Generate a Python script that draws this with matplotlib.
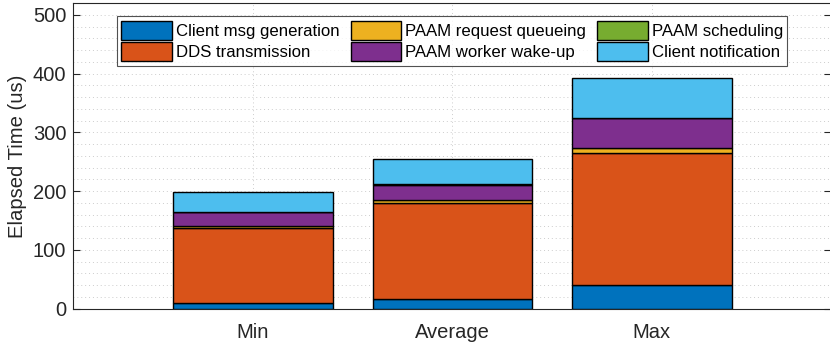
import numpy as np
import matplotlib
matplotlib.use("Agg")
import matplotlib.pyplot as plt

plt.rcParams["font.family"] = ["Liberation Sans", "DejaVu Sans"]

categories = ["Min", "Average", "Max"]
series_names = ["Client msg generation", "DDS transmission", "PAAM request queueing",
                "PAAM worker wake-up", "PAAM scheduling", "Client notification"]
client_msg = [10, 16, 40]
dds = [127, 164, 224]
req_queue = [3.5, 5, 9]
wake_up = [23.5, 26, 51]
scheduling = [0.5, 0.5, 0.5]
notification = [33.5, 42.5, 67.5]
colors = ["#0072BD", "#D95319", "#EDB120", "#7E2F8E", "#77AC30", "#4DBEEE"]

values = [client_msg, dds, req_queue, wake_up, scheduling, notification]

fig = plt.figure(figsize=(8.3, 3.43), dpi=100)
ax = fig.add_axes([73.3 / 830, 34.3 / 343, 758 / 830, 305.7 / 343])

x = np.arange(1, len(categories) + 1)
bottom = np.zeros(len(categories))
for name, vals, c in zip(series_names, values, colors):
    ax.bar(x, vals, 0.8, bottom=bottom, color=c, edgecolor="black",
           linewidth=1.0, label=name, zorder=3)
    bottom += np.array(vals)

ax.set_xlim(0.1, 3.9)
ax.set_ylim(0, 520)
ax.set_xticks(x)
ax.set_xticklabels(categories)
ax.set_yticks([0, 100, 200, 300, 400, 500])
ax.set_yticks(np.arange(0, 521, 20), minor=True)
ax.set_ylabel("Elapsed Time (us)", fontsize=14.6, color="#262626", labelpad=4)
ax.tick_params(direction="in", labelsize=14.5, colors="#262626", length=5, top=False, right=True)
ax.tick_params(axis="x", pad=10)
ax.tick_params(axis="y", pad=5)
ax.tick_params(which="minor", length=0)
ax.grid(True, which="both", axis="y", linestyle=(0, (1, 3)), color="#cccccc", linewidth=0.7, zorder=0)
ax.grid(True, which="major", axis="x", linestyle=(0, (1, 3)), color="#cccccc", linewidth=0.7, zorder=0)
for s in ax.spines.values():
    s.set_color("#262626")
    s.set_linewidth(0.8)

leg = ax.legend(ncol=3, loc="upper center", bbox_to_anchor=(0.5, 1.0), fontsize=12.1,
                frameon=True, fancybox=False, edgecolor="#262626", handlelength=3.0,
                handleheight=1.4, columnspacing=0.67, handletextpad=0.24,
                borderpad=0.25, labelspacing=0.12, borderaxespad=0.8)
leg.get_frame().set_linewidth(0.8)

plt.savefig("out.png", dpi=100)
